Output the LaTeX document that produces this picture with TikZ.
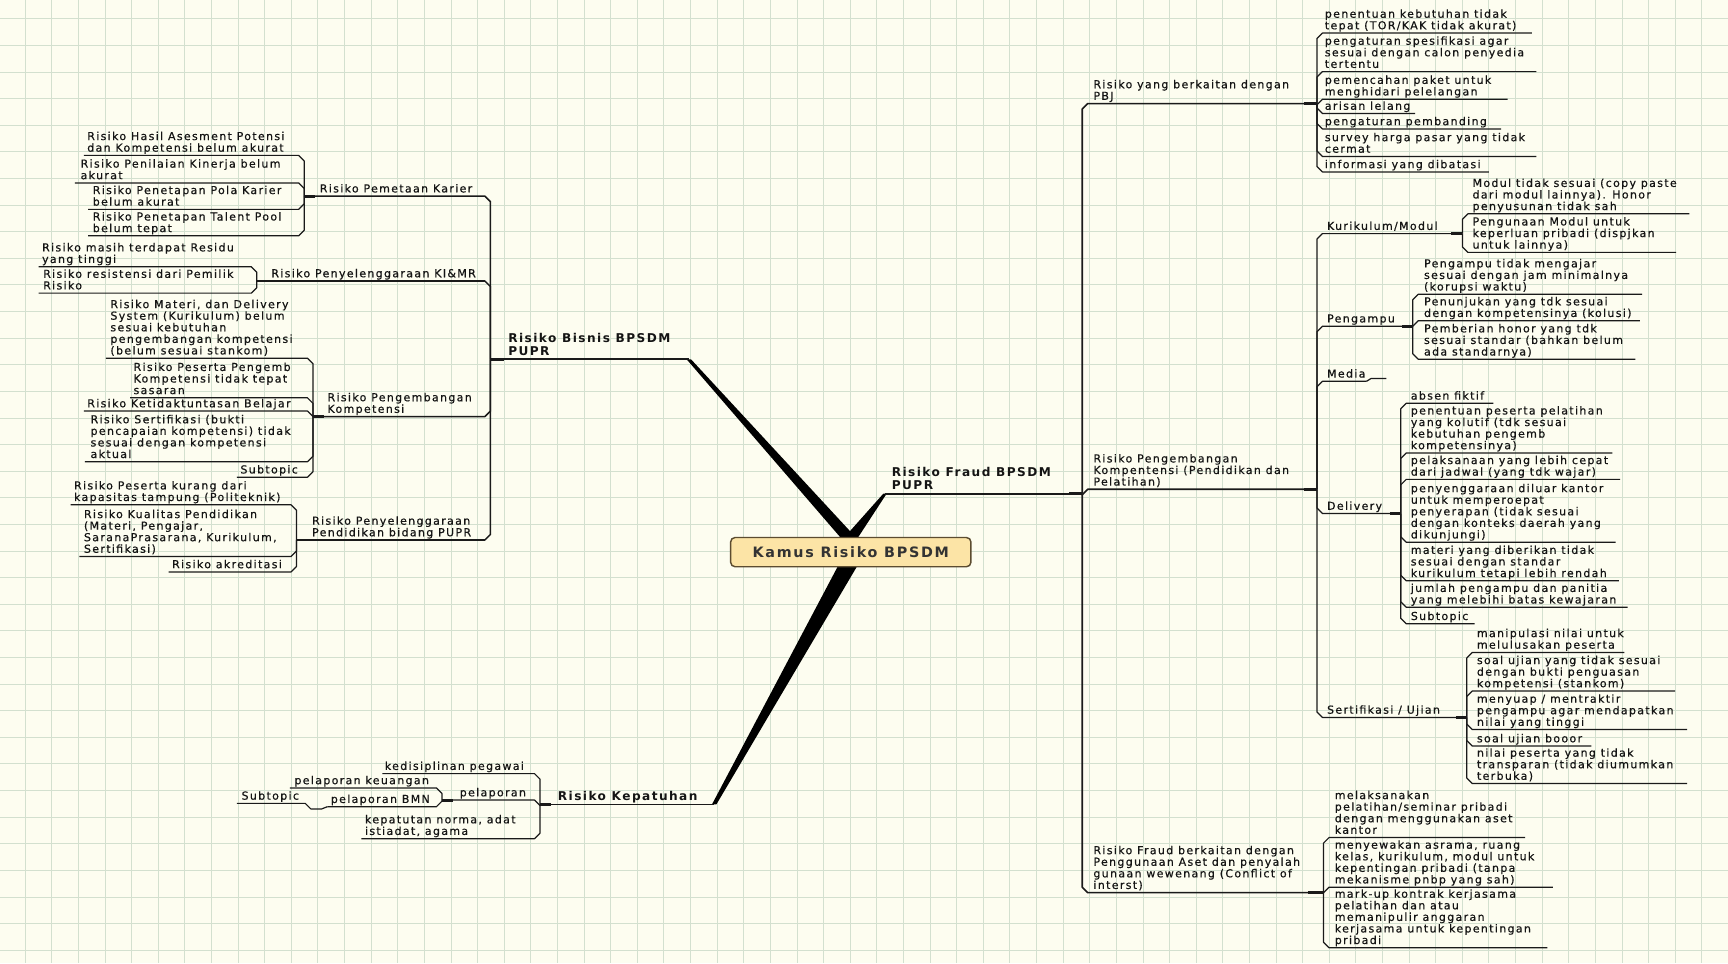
\documentclass[tikz,border=0pt]{standalone}
\usepackage{fontspec}
\newfontfamily\mmfont[LetterSpace=12,FakeBold=0.5]{DejaVu Sans}
\newfontfamily\mmtfont[LetterSpace=12]{DejaVu Sans}
\usetikzlibrary{calc}
\pgfdeclarelayer{gridlayer}
\pgfdeclarelayer{bglayer}
\pgfsetlayers{gridlayer,bglayer,main}
\definecolor{bgc}{HTML}{FDFDF0}
\definecolor{gridc}{HTML}{D3E0CF}
\definecolor{linec}{HTML}{1A1A1A}
\definecolor{txtc}{HTML}{141414}
\definecolor{rootfill}{HTML}{FCE4A6}
\definecolor{rootdraw}{HTML}{5C4C30}
\tikzset{
 leaf/.style={font=\mmfont\fontsize{10}{10.5}\selectfont, text=txtc, align=left, anchor=south west, inner xsep=0pt, inner ysep=0.6pt, execute at end node={\rule[-2.6pt]{0pt}{2.6pt}}},
 topic/.style={leaf, font=\mmtfont\bfseries\fontsize{11}{12}\selectfont},
 ln/.style={draw=linec, line width=1.1pt, line join=round},
 mainline/.style={ln, line width=1.5pt},
 stub/.style={draw=linec, line width=2.6pt},
 taper/.style={fill=black},
 rootbox/.style={draw=rootdraw, fill=rootfill, line width=1.3pt, rounded corners=4pt, minimum width=218pt, minimum height=26.5pt, font=\mmtfont\bfseries\fontsize{13}{14}\selectfont, text=black!80, inner sep=0pt}
}
% right-hand topic: name, parent junction, bracket x, junction y, underline y, far end x, text x, text
\newcommand\rleaf[8]{%
 \node[leaf] (#1) at (#7,#5) {#8};%
 \coordinate (#1e) at (#6,#5);%
 \pgfmathsetmacro\sg{(#4>#5)-(#4<#5)}%
 \draw[ln] (#2) -- (#3,#5+5*\sg) -- (#3+5,#5) -- (#1e);}
% left-hand topic
\newcommand\lleaf[8]{%
 \node[leaf] (#1) at (#7,#5) {#8};%
 \coordinate (#1e) at (#6,#5);%
 \pgfmathsetmacro\sg{(#4>#5)-(#4<#5)}%
 \draw[ln] (#2) -- (#3,#5+5*\sg) -- (#3-5,#5) -- (#1e);}
\begin{document}
\begin{tikzpicture}[x=1pt,y=-1pt]
\useasboundingbox (0,0) rectangle (1568,874);
\begin{pgfonlayer}{gridlayer}
 \fill[bgc] (0,0) rectangle (1568,874);
 \foreach \i in {0,...,64} \draw[gridc, line width=0.8pt] (22.8+24.15*\i,0) -- ++(0,874);
 \foreach \j in {0,...,35} \draw[gridc, line width=0.8pt] (0,17+24.15*\j) -- ++(1568,0);
\end{pgfonlayer}

% central topic
\node[rootbox] (root) at (772,501) {Kamus Risiko BPSDM};

% main topics
\node[topic] (fr) at (809,448) {Risiko Fraud BPSDM\\PUPR};
\coordinate (frT) at (803,448);
\coordinate (frJ) at (982,448);
\node[topic] (bis) at (461,326) {Risiko Bisnis BPSDM\\PUPR};
\coordinate (bisT) at (625,326);
\coordinate (bisJ) at (445,326);
\node[topic] (kp) at (506,730) {Risiko Kepatuhan};
\coordinate (kpT) at (648,730);
\coordinate (kpJ) at (490,730);

\begin{pgfonlayer}{bglayer}
 \fill[taper] ($(root.north)+(-8,3)$) -- ($(frT)+(-1.5,0)$) -- ($(frT)+(1.5,0)$) -- ($(root.north)+(5,3)$) -- cycle;
 \fill[taper] ($(root.north)+(-9,1)$) -- ($(bisT)+(-2,0)$) -- ($(bisT)+(2,0)$) -- ($(root.north)+(5,1)$) -- cycle;
 \fill[taper] ($(root.south)+(-7,-10)$) -- ($(kpT)+(-2,0)$) -- ($(kpT)+(2,0)$) -- ($(root.south)+(11,-10)$) -- cycle;
\end{pgfonlayer}
\draw[mainline] (frT) -- (frJ);
\draw[stub] (frJ) -- ++(-12,0);
\draw[mainline] (bisT) -- (bisJ);
\draw[stub] (bisJ) -- ++(12,0);
\draw[mainline] (kpT) -- (kpJ);
\draw[stub] (kpJ) -- ++(10,0);

% ---------- Risiko Fraud ----------
\begin{scope}[ln/.append style={line width=1.5pt}]
\rleaf{pbj}{frJ}{982}{448}{94}{1195}{992}{Risiko yang berkaitan dengan\\PBJ}
\rleaf{pk}{frJ}{982}{448}{444}{1195}{992}{Risiko Pengembangan\\Kompentensi (Pendidikan dan\\Pelatihan)}
\rleaf{fa}{frJ}{982}{448}{810}{1201}{992}{Risiko Fraud berkaitan dengan\\Penggunaan Aset dan penyalah\\gunaan wewenang (Conflict of\\interst)}
\end{scope}
\draw[stub] (pbje) -- ++(-12,0);
\draw[stub] (pke) -- ++(-12,0);
\draw[stub] (fae) -- ++(-14,0);

\rleaf{pbj1}{pbje}{1195}{94}{30}{1390}{1202}{penentuan kebutuhan tidak\\tepat (TOR/KAK tidak akurat)}
\rleaf{pbj2}{pbje}{1195}{94}{65}{1394}{1202}{pengaturan spesifikasi agar\\sesuai dengan calon penyedia\\tertentu}
\rleaf{pbj3}{pbje}{1195}{94}{90}{1368}{1202}{pemencahan paket untuk\\menghidari pelelangan}
\rleaf{pbj4}{pbje}{1195}{94}{103}{1284}{1202}{arisan lelang}
\rleaf{pbj5}{pbje}{1195}{94}{117}{1362}{1202}{pengaturan pembanding}
\rleaf{pbj6}{pbje}{1195}{94}{142}{1394}{1202}{survey harga pasar yang tidak\\cermat}
\rleaf{pbj7}{pbje}{1195}{94}{156}{1351}{1202}{informasi yang dibatasi}

\rleaf{kur}{pke}{1195}{444}{212}{1327}{1204}{Kurikulum/Modul}
\rleaf{pga}{pke}{1195}{444}{296}{1282}{1204}{Pengampu}
\rleaf{med}{pke}{1195}{444}{346}{1240}{1204}{Media}
\rleaf{del}{pke}{1195}{444}{466}{1271}{1204}{Delivery}
\rleaf{ser}{pke}{1195}{444}{651}{1331}{1204}{Sertifikasi / Ujian}
\draw[ln] (mede) -- ++(4,-2.5) -- ++(14,0);
\draw[stub] (kure) -- ++(-10,0);
\draw[stub] (pgae) -- ++(-10,0);
\draw[stub] (dele) -- ++(-10,0);
\draw[stub] (sere) -- ++(-10,0);

\rleaf{kur1}{kure}{1327}{212}{194}{1533}{1336}{Modul tidak sesuai (copy paste\\dari modul lainnya). Honor\\penyusunan tidak sah}
\rleaf{kur2}{kure}{1327}{212}{229}{1521}{1336}{Pengunaan Modul untuk\\keperluan pribadi (dispjkan\\untuk lainnya)}

\rleaf{pga1}{pgae}{1282}{296}{267}{1490}{1292}{Pengampu tidak mengajar\\sesuai dengan jam minimalnya\\(korupsi waktu)}
\rleaf{pga2}{pgae}{1282}{296}{291}{1488}{1292}{Penunjukan yang tdk sesuai\\dengan kompetensinya (kolusi)}
\rleaf{pga3}{pgae}{1282}{296}{326}{1484}{1292}{Pemberian honor yang tdk\\sesuai standar (bahkan belum\\ada standarnya)}

\rleaf{del1}{dele}{1271}{466}{366}{1355}{1280}{absen fiktif}
\rleaf{del2}{dele}{1271}{466}{411}{1463}{1280}{penentuan peserta pelatihan\\yang kolutif (tdk sesuai\\kebutuhan pengemb\\kompetensinya)}
\rleaf{del3}{dele}{1271}{466}{435}{1470}{1280}{pelaksanaan yang lebih cepat\\dari jadwal (yang tdk wajar)}
\rleaf{del4}{dele}{1271}{466}{492}{1466}{1280}{penyenggaraan diluar kantor\\untuk memperoepat\\penyerapan (tidak sesuai\\dengan konteks daerah yang\\dikunjungi)}
\rleaf{del5}{dele}{1271}{466}{527}{1469}{1280}{materi yang diberikan tidak\\sesuai dengan standar\\kurikulum tetapi lebih rendah}
\rleaf{del6}{dele}{1271}{466}{551}{1477}{1280}{jumlah pengampu dan panitia\\yang melebihi batas kewajaran}
\rleaf{del7}{dele}{1271}{466}{566}{1338}{1280}{Subtopic}

\rleaf{ser1}{sere}{1331}{651}{592}{1474}{1340}{manipulasi nilai untuk\\melulusakan peserta}
\rleaf{ser2}{sere}{1331}{651}{627}{1520}{1340}{soal ujian yang tidak sesuai\\dengan bukti penguasan\\kompetensi (stankom)}
\rleaf{ser3}{sere}{1331}{651}{662}{1531}{1340}{menyuap / mentraktir\\pengampu agar mendapatkan\\nilai yang tinggi}
\rleaf{ser4}{sere}{1331}{651}{677}{1444}{1340}{soal ujian booor}
\rleaf{ser5}{sere}{1331}{651}{711}{1531}{1340}{nilai peserta yang tidak\\transparan (tidak diumumkan\\terbuka)}

\rleaf{fa1}{fae}{1201}{810}{760}{1384}{1211}{melaksanakan\\pelatihan/seminar pribadi\\dengan menggunakan aset\\kantor}
\rleaf{fa2}{fae}{1201}{810}{805}{1409}{1211}{menyewakan asrama, ruang\\kelas, kurikulum, modul untuk\\kepentingan pribadi (tanpa\\mekanisme pnbp yang sah)}
\rleaf{fa3}{fae}{1201}{810}{860}{1404}{1211}{mark-up kontrak kerjasama\\pelatihan dan atau\\memanipulir anggaran\\kerjasama untuk kepentingan\\pribadi}

% ---------- Risiko Bisnis ----------
\begin{scope}[ln/.append style={line width=1.4pt}]
\lleaf{pem}{bisJ}{445}{326}{178}{276}{290}{Risiko Pemetaan Karier}
\lleaf{ki}{bisJ}{445}{326}{255}{233}{246}{Risiko Penyelenggaraan KI\&MR}
\lleaf{pkl}{bisJ}{445}{326}{378}{284}{297}{Risiko Pengembangan\\Kompetensi}
\lleaf{pp}{bisJ}{445}{326}{490}{269}{283}{Risiko Penyelenggaraan\\Pendidikan bidang PUPR}
\end{scope}
\draw[stub] (peme) -- ++(10,0);
\draw[stub] (kie) -- ++(10,0);
\draw[stub] (pkle) -- ++(10,0);
\draw[stub] (ppe) -- ++(10,0);

\lleaf{pem1}{peme}{276}{178}{141}{76}{79}{Risiko Hasil Asesment Potensi\\dan Kompetensi belum akurat}
\lleaf{pem2}{peme}{276}{178}{166}{68}{73}{Risiko Penilaian Kinerja belum\\akurat}
\lleaf{pem3}{peme}{276}{178}{190}{80}{84}{Risiko Penetapan Pola Karier\\belum akurat}
\lleaf{pem4}{peme}{276}{178}{214}{80}{84}{Risiko Penetapan Talent Pool\\belum tepat}

\lleaf{ki1}{kie}{233}{255}{242}{35}{38}{Risiko masih terdapat Residu\\yang tinggi}
\lleaf{ki2}{kie}{233}{255}{266}{35}{39}{Risiko resistensi dari Pemilik\\Risiko}

\lleaf{pkl1}{pkle}{284}{378}{325}{96}{100}{Risiko Materi, dan Delivery\\System (Kurikulum) belum\\sesuai kebutuhan\\pengembangan kompetensi\\(belum sesuai stankom)}
\lleaf{pkl2}{pkle}{284}{378}{361}{118}{121}{Risiko Peserta Pengemb\\Kompetensi tidak tepat\\sasaran}
\lleaf{pkl3}{pkle}{284}{378}{373}{76}{79}{Risiko Ketidaktuntasan Belajar}
\lleaf{pkl4}{pkle}{284}{378}{419}{77}{82}{Risiko Sertifikasi (bukti\\pencapaian kompetensi) tidak\\sesuai dengan kompetensi\\aktual}
\lleaf{pkl5}{pkle}{284}{378}{433}{215}{218}{Subtopic}

\lleaf{pp1}{ppe}{269}{490}{458}{64}{67}{Risiko Peserta kurang dari\\kapasitas tampung (Politeknik)}
\lleaf{pp2}{ppe}{269}{490}{505}{72}{76}{Risiko Kualitas Pendidikan\\(Materi, Pengajar,\\SaranaPrasarana, Kurikulum,\\Sertifikasi)}
\lleaf{pp3}{ppe}{269}{490}{519}{153}{156}{Risiko akreditasi}

% ---------- Risiko Kepatuhan ----------
\lleaf{kp1}{kpJ}{490}{730}{702}{347}{349}{kedisiplinan pegawai}
\lleaf{pl}{kpJ}{490}{730}{726}{401}{417}{pelaporan}
\lleaf{kp3}{kpJ}{490}{730}{761}{328}{331}{kepatutan norma, adat\\istiadat, agama}
\draw[stub] (ple) -- ++(10,0);
\lleaf{pl1}{ple}{401}{726}{715}{263}{267}{pelaporan keuangan}
\lleaf{bmn}{ple}{401}{726}{732}{297}{300}{pelaporan BMN}
\node[leaf] (bsub) at (219,729) {Subtopic};
\coordinate (bsube) at (215,729);
\draw[ln] (bsube) -- ++(62,0) -- ++(5,5) -- ++(10,0) -- (bmne);
\end{tikzpicture}
\end{document}
